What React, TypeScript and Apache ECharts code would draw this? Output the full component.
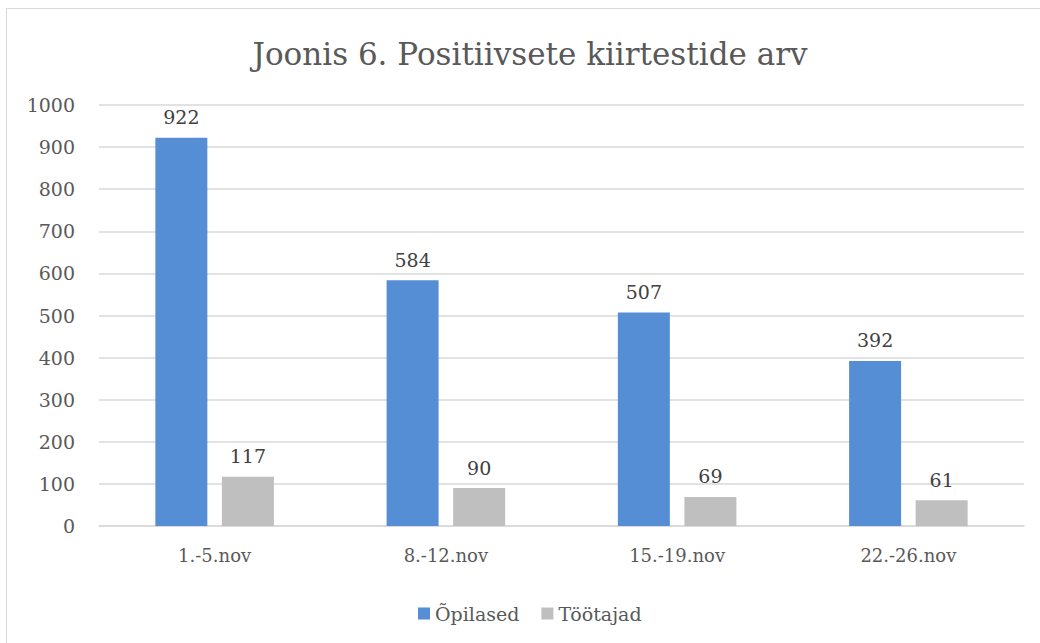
import React, { useEffect, useRef } from "react";
import * as echarts from "echarts";

const categories = ["1.-5.nov", "8.-12.nov", "15.-19.nov", "22.-26.nov"];
const opilased = [922, 584, 507, 392];
const tootajad = [117, 90, 69, 61];
const seriesNames = ["Õpilased", "Töötajad"];
const titleText = "Joonis 6. Positiivsete kiirtestide arv";

const FONT = "DejaVu Serif";

export default function App() {
  const ref = useRef<HTMLDivElement>(null);
  useEffect(() => {
    const chart = echarts.init(ref.current!, null, { renderer: "svg" });
    chart.setOption({
      animation: false,
      backgroundColor: "#ffffff",
      textStyle: { fontFamily: FONT },
      graphic: [
        {
          type: "rect",
          shape: { x: 6.5, y: 8.5, width: 1100, height: 700 },
          style: { fill: "none", stroke: "#d9d9d9", lineWidth: 1 },
          silent: true,
        },
        {
          type: "text",
          x: 530,
          y: 54,
          style: {
            text: titleText,
            fontFamily: FONT,
            fontSize: 31,
            fill: "#595959",
            textAlign: "center",
            textVerticalAlign: "middle",
          },
        },
      ],
      legend: {
        data: seriesNames,
        left: 413,
        top: 599,
        itemWidth: 12,
        itemHeight: 12,
        itemGap: 22,
        icon: "rect",
        textStyle: { fontFamily: FONT, fontSize: 19, color: "#595959" },
      },
      grid: { left: 99, right: 16, top: 105, bottom: 117, containLabel: false },
      xAxis: {
        type: "category",
        data: categories,
        axisLine: { lineStyle: { color: "#d9d9d9", width: 1.5 } },
        axisTick: { show: false },
        axisLabel: {
          fontFamily: FONT,
          fontSize: 18,
          color: "#595959",
          margin: 20,
        },
      },
      yAxis: {
        type: "value",
        min: 0,
        max: 1000,
        interval: 100,
        axisLine: { show: false },
        axisTick: { show: false },
        splitLine: { lineStyle: { color: "#d9d9d9", width: 1.5 } },
        axisLabel: {
          fontFamily: FONT,
          fontSize: 19,
          color: "#595959",
          margin: 24,
          formatter: (v: number) => String(v),
        },
      },
      series: [
        {
          name: seriesNames[0],
          type: "bar",
          data: opilased,
          barWidth: 52,
          barGap: "28%",
          itemStyle: { color: "#558ed5" },
          label: {
            show: true,
            position: "top",
            distance: 11,
            fontFamily: FONT,
            fontSize: 19,
            color: "#404040",
          },
        },
        {
          name: seriesNames[1],
          type: "bar",
          data: tootajad,
          barWidth: 52,
          itemStyle: { color: "#bfbfbf" },
          label: {
            show: true,
            position: "top",
            distance: 11,
            fontFamily: FONT,
            fontSize: 19,
            color: "#404040",
          },
        },
      ],
    });
    return () => chart.dispose();
  }, []);
  return (
    <div
      ref={ref}
      style={{ position: "absolute", left: 0, top: 0, width: 1040, height: 643 }}
    />
  );
}
